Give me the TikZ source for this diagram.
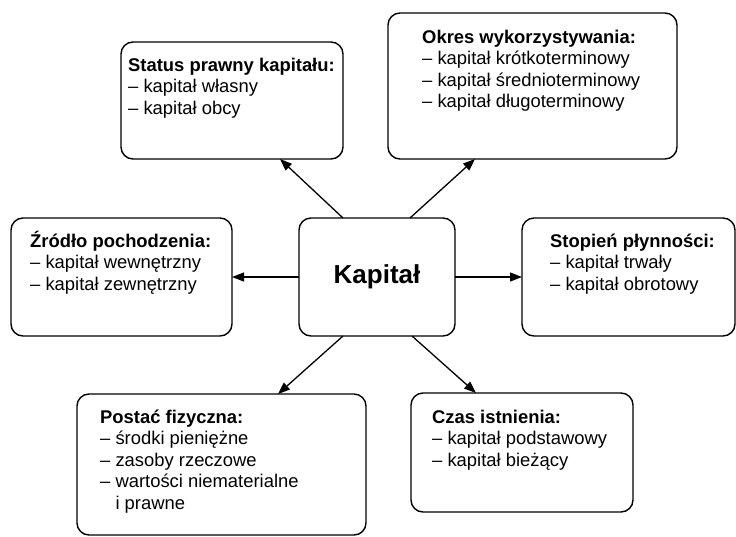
\documentclass[tikz,border=0pt]{standalone}
\usepackage{fontspec}
\setmainfont{Liberation Sans}
\usetikzlibrary{arrows.meta,calc}
\tikzset{
  box/.style={draw, line width=1.4pt, rounded corners=12pt, inner sep=0pt, outer sep=0pt},
  boxtext/.style={anchor=base west, align=left, inner sep=0pt, font=\fontsize{18.4}{21.5}\selectfont},
  conn/.style={line width=1.3pt, -{Triangle[length=12pt,width=9pt]}}
}
\begin{document}
\begin{tikzpicture}[x=1pt,y=-1pt]
\useasboundingbox (0,0) rectangle (736,536);
% boxes
\node[box, minimum width=222pt, minimum height=117pt] (s) at (232,100.5) {};
\node[box, minimum width=289pt, minimum height=146pt] (o) at (532.5,86) {};
\node[box, minimum width=221pt, minimum height=118pt] (z) at (121.5,277) {};
\node[box, minimum width=156pt, minimum height=118pt] (k) at (377,277) {};
\node[box, minimum width=213pt, minimum height=118pt] (st) at (628.5,277) {};
\node[box, minimum width=289pt, minimum height=141pt] (p) at (221.5,464.5) {};
\node[box, minimum width=222pt, minimum height=119pt] (c) at (522,452.5) {};
% texts (anchor = baseline of the last line)
\node[font=\fontsize{26}{30}\selectfont\bfseries, inner sep=0pt] (kt) at (k.center) {Kapitał};
\node[boxtext] (st1) at (128,114) {\textbf{Status prawny kapitału:}\\– kapitał własny\\– kapitał obcy};
\node[boxtext] (ot) at (422,107.5) {\textbf{Okres wykorzystywania:}\\– kapitał krótkoterminowy\\– kapitał średnioterminowy\\– kapitał długoterminowy};
\node[boxtext] (zt) at (30,290) {\textbf{Źródło pochodzenia:}\\– kapitał wewnętrzny\\– kapitał zewnętrzny};
\node[boxtext] (stt) at (550,290) {\textbf{Stopień płynności:}\\– kapitał trwały\\– kapitał obrotowy};
\node[boxtext] (pt) at (100,509) {\textbf{Postać fizyczna:}\\– środki pieniężne\\– zasoby rzeczowe\\– wartości niematerialne\\\hspace*{15.3pt}i prawne};
\node[boxtext] (ct) at (432,466) {\textbf{Czas istnienia:}\\– kapitał podstawowy\\– kapitał bieżący};
% connectors
\draw[conn] ($(k.north)+(-34,0)$) -- ($(s.south)+(48,0)$);
\draw[conn] ($(k.north)+(33,0)$) -- ($(o.south)+(-57.5,0)$);
\draw[conn] (k.west) -- (z.east);
\draw[conn] (k.east) -- (st.west);
\draw[conn] ($(k.south)+(-34,0)$) -- ($(p.north)+(56.5,0)$);
\draw[conn] ($(k.south)+(35,0)$) -- ($(c.north)+(-46,0)$);
\end{tikzpicture}
\end{document}
